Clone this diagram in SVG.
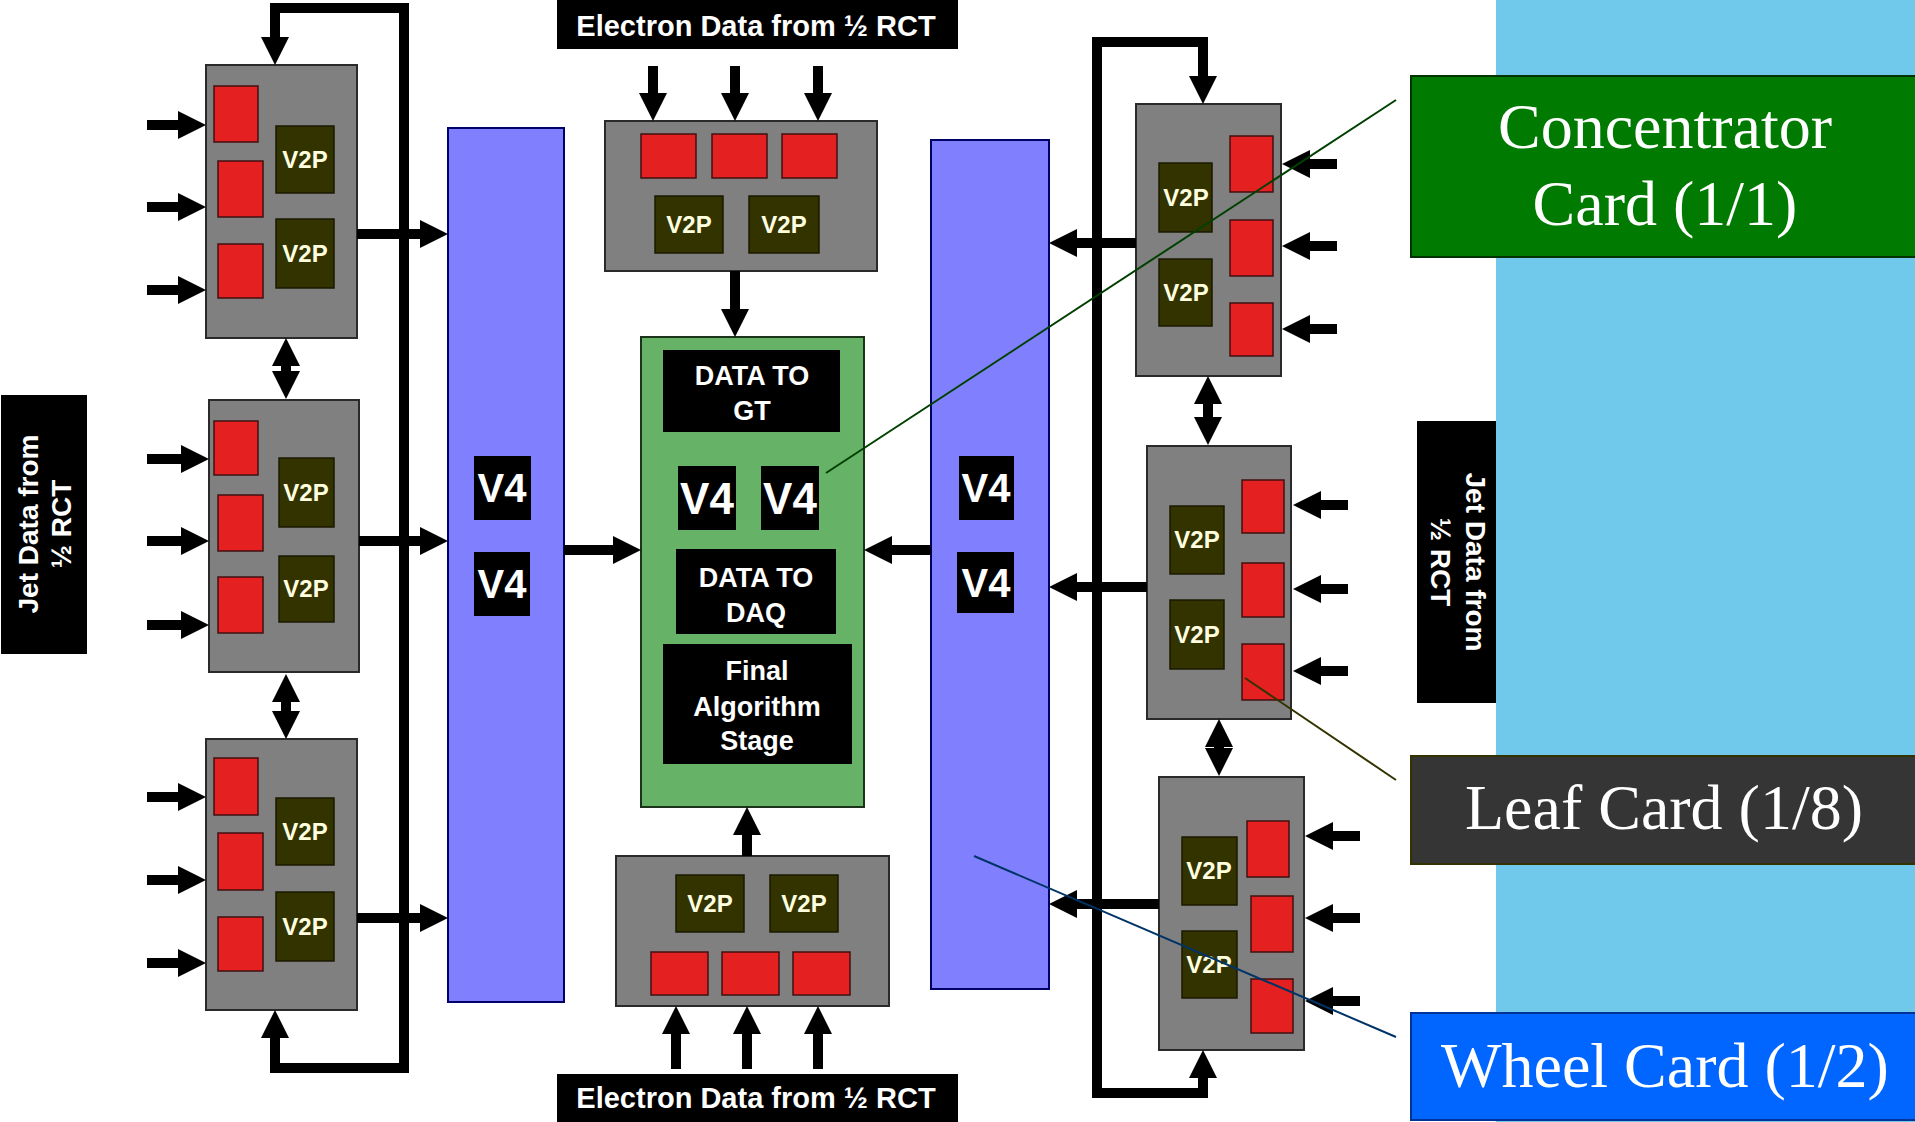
<svg xmlns="http://www.w3.org/2000/svg" width="1915" height="1122" viewBox="0 0 1915 1122">
<defs>
<marker id="ah" markerUnits="userSpaceOnUse" markerWidth="28" markerHeight="28" viewBox="0 0 28 28" refX="1" refY="14" orient="auto-start-reverse"><path d="M0,0 L28,14 L0,28 z" fill="#000"/></marker>
</defs>
<style>
.leaf{fill:#808080;stroke:#2a2a2a;stroke-width:2}
.red{fill:#E42020;stroke:#401010;stroke-width:1.5}
.v2p{fill:#333300;stroke:#1a1a00;stroke-width:1.5}
.v2pt{font-family:"Liberation Sans",Arial,sans-serif;font-weight:bold;font-size:24px;fill:#FFFFE0;text-anchor:middle}
.bar{fill:#8080FF;stroke:#000066;stroke-width:2}
.blk{fill:#000}
.wt{font-family:"Liberation Sans",Arial,sans-serif;font-weight:bold;fill:#fff;text-anchor:middle}
.cn{stroke:#000;stroke-width:10;fill:none;marker-end:url(#ah)}
.dbl{marker-start:url(#ah)}
.lbl{font-family:"Liberation Serif","Times New Roman",serif;font-size:64px;fill:#fff;text-anchor:middle}
</style>
<rect x="0" y="0" width="1915" height="1122" fill="#fff"/>
<rect x="1496" y="0" width="419" height="1122" fill="#70C8EB"/>

<g id="jet-left">
<rect x="1" y="395" width="86" height="259" class="blk"/>
<g transform="rotate(-90)"><text class="wt" font-size="28" x="-524" y="38">Jet Data from</text><text class="wt" font-size="28" x="-524" y="71">½ RCT</text></g>
</g>
<g id="jet-right">
<rect x="1417" y="421" width="79" height="282" class="blk"/>
<g transform="rotate(90)"><text class="wt" font-size="28" x="562" y="-1466">Jet Data from</text><text class="wt" font-size="28" x="562" y="-1431">½ RCT</text></g>
</g>
<g id="electron-top">
<rect x="557" y="0" width="401" height="49" class="blk"/>
<text class="wt" font-size="29" x="756" y="36">Electron Data from ½ RCT</text>
</g>
<g id="electron-bottom">
<rect x="557" y="1074" width="401" height="48" class="blk"/>
<text class="wt" font-size="29" x="756" y="1108">Electron Data from ½ RCT</text>
</g>

<g id="wheel-left">
<rect x="448" y="128" width="116" height="874" class="bar"/>
<rect x="474" y="456" width="57" height="64" class="blk"/><text class="wt" font-size="40" x="502" y="502">V4</text>
<rect x="474" y="552" width="56" height="64" class="blk"/><text class="wt" font-size="40" x="502" y="598">V4</text>
</g>
<g id="wheel-right">
<rect x="931" y="140" width="118" height="849" class="bar"/>
<rect x="959" y="456" width="55" height="64" class="blk"/><text class="wt" font-size="40" x="986" y="502">V4</text>
<rect x="957" y="552" width="57" height="61" class="blk"/><text class="wt" font-size="40" x="986" y="597">V4</text>
</g>

<g id="concentrator">
<rect x="641" y="337" width="223" height="470" fill="#66B266" stroke="#1a331a" stroke-width="2"/>
<rect x="663" y="350" width="177" height="82" class="blk"/>
<text class="wt" font-size="27" x="752" y="385">DATA TO</text><text class="wt" font-size="27" x="752" y="420">GT</text>
<rect x="678" y="466" width="58" height="64" class="blk"/><text class="wt" font-size="44" x="707" y="514">V4</text>
<rect x="761" y="466" width="58" height="64" class="blk"/><text class="wt" font-size="44" x="790" y="514">V4</text>
<rect x="676" y="549" width="160" height="85" class="blk"/>
<text class="wt" font-size="27" x="756" y="587">DATA TO</text><text class="wt" font-size="27" x="756" y="622">DAQ</text>
<rect x="663" y="644" width="189" height="120" class="blk"/>
<text class="wt" font-size="27" x="757" y="680">Final</text><text class="wt" font-size="27" x="757" y="716">Algorithm</text><text class="wt" font-size="27" x="757" y="750">Stage</text>
</g>

<g id="leaf-l1">
<rect x="206" y="65" width="151" height="273" class="leaf"/>
<rect x="214" y="86" width="44" height="56" class="red"/><rect x="218" y="161" width="45" height="56" class="red"/><rect x="218" y="244" width="45" height="54" class="red"/>
<rect x="276" y="126" width="58" height="67" class="v2p"/><text class="v2pt" x="305" y="168">V2P</text>
<rect x="276" y="219" width="58" height="69" class="v2p"/><text class="v2pt" x="305" y="262">V2P</text>
</g>
<g id="leaf-l2">
<rect x="209" y="400" width="150" height="272" class="leaf"/>
<rect x="214" y="421" width="44" height="54" class="red"/><rect x="218" y="495" width="45" height="56" class="red"/><rect x="218" y="577" width="45" height="56" class="red"/>
<rect x="279" y="458" width="55" height="69" class="v2p"/><text class="v2pt" x="306" y="501">V2P</text>
<rect x="279" y="556" width="55" height="66" class="v2p"/><text class="v2pt" x="306" y="597">V2P</text>
</g>
<g id="leaf-l3">
<rect x="206" y="739" width="151" height="271" class="leaf"/>
<rect x="214" y="758" width="44" height="57" class="red"/><rect x="218" y="833" width="45" height="57" class="red"/><rect x="218" y="917" width="45" height="54" class="red"/>
<rect x="276" y="798" width="58" height="67" class="v2p"/><text class="v2pt" x="305" y="840">V2P</text>
<rect x="276" y="892" width="58" height="69" class="v2p"/><text class="v2pt" x="305" y="935">V2P</text>
</g>
<g id="leaf-top">
<rect x="605" y="121" width="272" height="150" class="leaf"/>
<rect x="641" y="134" width="55" height="44" class="red"/><rect x="712" y="134" width="55" height="44" class="red"/><rect x="782" y="134" width="55" height="44" class="red"/>
<rect x="655" y="196" width="68" height="57" class="v2p"/><text class="v2pt" x="689" y="233">V2P</text>
<rect x="749" y="196" width="70" height="57" class="v2p"/><text class="v2pt" x="784" y="233">V2P</text>
</g>
<g id="leaf-bottom">
<rect x="616" y="856" width="273" height="150" class="leaf"/>
<rect x="676" y="875" width="68" height="57" class="v2p"/><text class="v2pt" x="710" y="912">V2P</text>
<rect x="770" y="875" width="68" height="57" class="v2p"/><text class="v2pt" x="804" y="912">V2P</text>
<rect x="651" y="952" width="57" height="43" class="red"/><rect x="722" y="952" width="57" height="43" class="red"/><rect x="793" y="952" width="57" height="43" class="red"/>
</g>
<g id="leaf-r1">
<rect x="1136" y="104" width="145" height="272" class="leaf"/>
<rect x="1230" y="136" width="43" height="56" class="red"/><rect x="1230" y="220" width="43" height="56" class="red"/><rect x="1230" y="303" width="43" height="53" class="red"/>
<rect x="1159" y="163" width="53" height="69" class="v2p"/><text class="v2pt" x="1186" y="206">V2P</text>
<rect x="1159" y="259" width="53" height="67" class="v2p"/><text class="v2pt" x="1186" y="301">V2P</text>
</g>
<g id="leaf-r2">
<rect x="1147" y="446" width="144" height="273" class="leaf"/>
<rect x="1242" y="480" width="42" height="53" class="red"/><rect x="1242" y="563" width="42" height="54" class="red"/><rect x="1242" y="644" width="42" height="56" class="red"/>
<rect x="1170" y="506" width="54" height="68" class="v2p"/><text class="v2pt" x="1197" y="548">V2P</text>
<rect x="1170" y="600" width="54" height="69" class="v2p"/><text class="v2pt" x="1197" y="643">V2P</text>
</g>
<g id="leaf-r3">
<rect x="1159" y="777" width="145" height="273" class="leaf"/>
<rect x="1247" y="821" width="42" height="56" class="red"/><rect x="1251" y="896" width="42" height="56" class="red"/><rect x="1251" y="979" width="42" height="54" class="red"/>
<rect x="1182" y="837" width="55" height="68" class="v2p"/><text class="v2pt" x="1209" y="879">V2P</text>
<rect x="1182" y="931" width="55" height="67" class="v2p"/><text class="v2pt" x="1209" y="973">V2P</text>
</g>

<g id="connectors">
<path class="cn" d="M147,125 H179"/><path class="cn" d="M147,207 H179"/><path class="cn" d="M147,290 H179"/>
<path class="cn" d="M147,459 H182"/><path class="cn" d="M147,541 H182"/><path class="cn" d="M147,625 H182"/>
<path class="cn" d="M147,797 H179"/><path class="cn" d="M147,880 H179"/><path class="cn" d="M147,963 H179"/>
<path class="cn" d="M275,1037 V1068 H404 V8 H275 V38" style="marker-start:url(#ah)"/>
<path class="cn" d="M357,234 H421"/><path class="cn" d="M359,541 H421"/><path class="cn" d="M357,918 H421"/>
<path class="cn dbl" d="M286,365 V372"/><path class="cn dbl" d="M286,701 V712"/>
<path class="cn" d="M653,66 V94"/><path class="cn" d="M735,66 V94"/><path class="cn" d="M818,66 V94"/>
<path class="cn" d="M735,271 V310"/>
<path class="cn" d="M564,550 H614"/>
<path class="cn" d="M931,550 H891"/>
<path class="cn" d="M747,856 V834"/>
<path class="cn" d="M676,1069 V1033"/><path class="cn" d="M747,1069 V1033"/><path class="cn" d="M818,1069 V1033"/>
<path class="cn" d="M1337,164 H1309"/><path class="cn" d="M1337,246 H1309"/><path class="cn" d="M1337,329 H1309"/>
<path class="cn" d="M1348,505 H1320"/><path class="cn" d="M1348,589 H1320"/><path class="cn" d="M1348,671 H1320"/>
<path class="cn" d="M1360,836 H1332"/><path class="cn" d="M1360,918 H1332"/><path class="cn" d="M1360,1001 H1332"/>
<path class="cn" d="M1136,243 H1076"/><path class="cn" d="M1147,587 H1076"/><path class="cn" d="M1159,904 H1076"/>
<path class="cn dbl" d="M1208,403 V418"/><path class="cn dbl" d="M1219,746 V749"/>
<path class="cn" d="M1203,1077 V1093 H1097 V42 H1203 V77" style="marker-start:url(#ah)"/>
</g>

<g id="callouts">
<line x1="1396" y1="100" x2="826" y2="473" stroke="#004000" stroke-width="2"/>
<line x1="1396" y1="780" x2="1245" y2="678" stroke="#333300" stroke-width="2"/>
<line x1="1396" y1="1037" x2="974" y2="856" stroke="#003366" stroke-width="2"/>
</g>
<g id="label-concentrator">
<rect x="1411" y="76" width="506" height="181" fill="#007A00" stroke="#003300" stroke-width="2"/>
<text class="lbl" x="1665" y="148">Concentrator</text><text class="lbl" x="1665" y="225">Card (1/1)</text>
</g>
<g id="label-leaf">
<rect x="1411" y="756" width="506" height="108" fill="#353535" stroke="#333300" stroke-width="2"/>
<text class="lbl" x="1664" y="829">Leaf Card (1/8)</text>
</g>
<g id="label-wheel">
<rect x="1411" y="1013" width="506" height="107" fill="#0066FF" stroke="#003399" stroke-width="2"/>
<text class="lbl" x="1665" y="1087">Wheel Card (1/2)</text>
</g>
</svg>
